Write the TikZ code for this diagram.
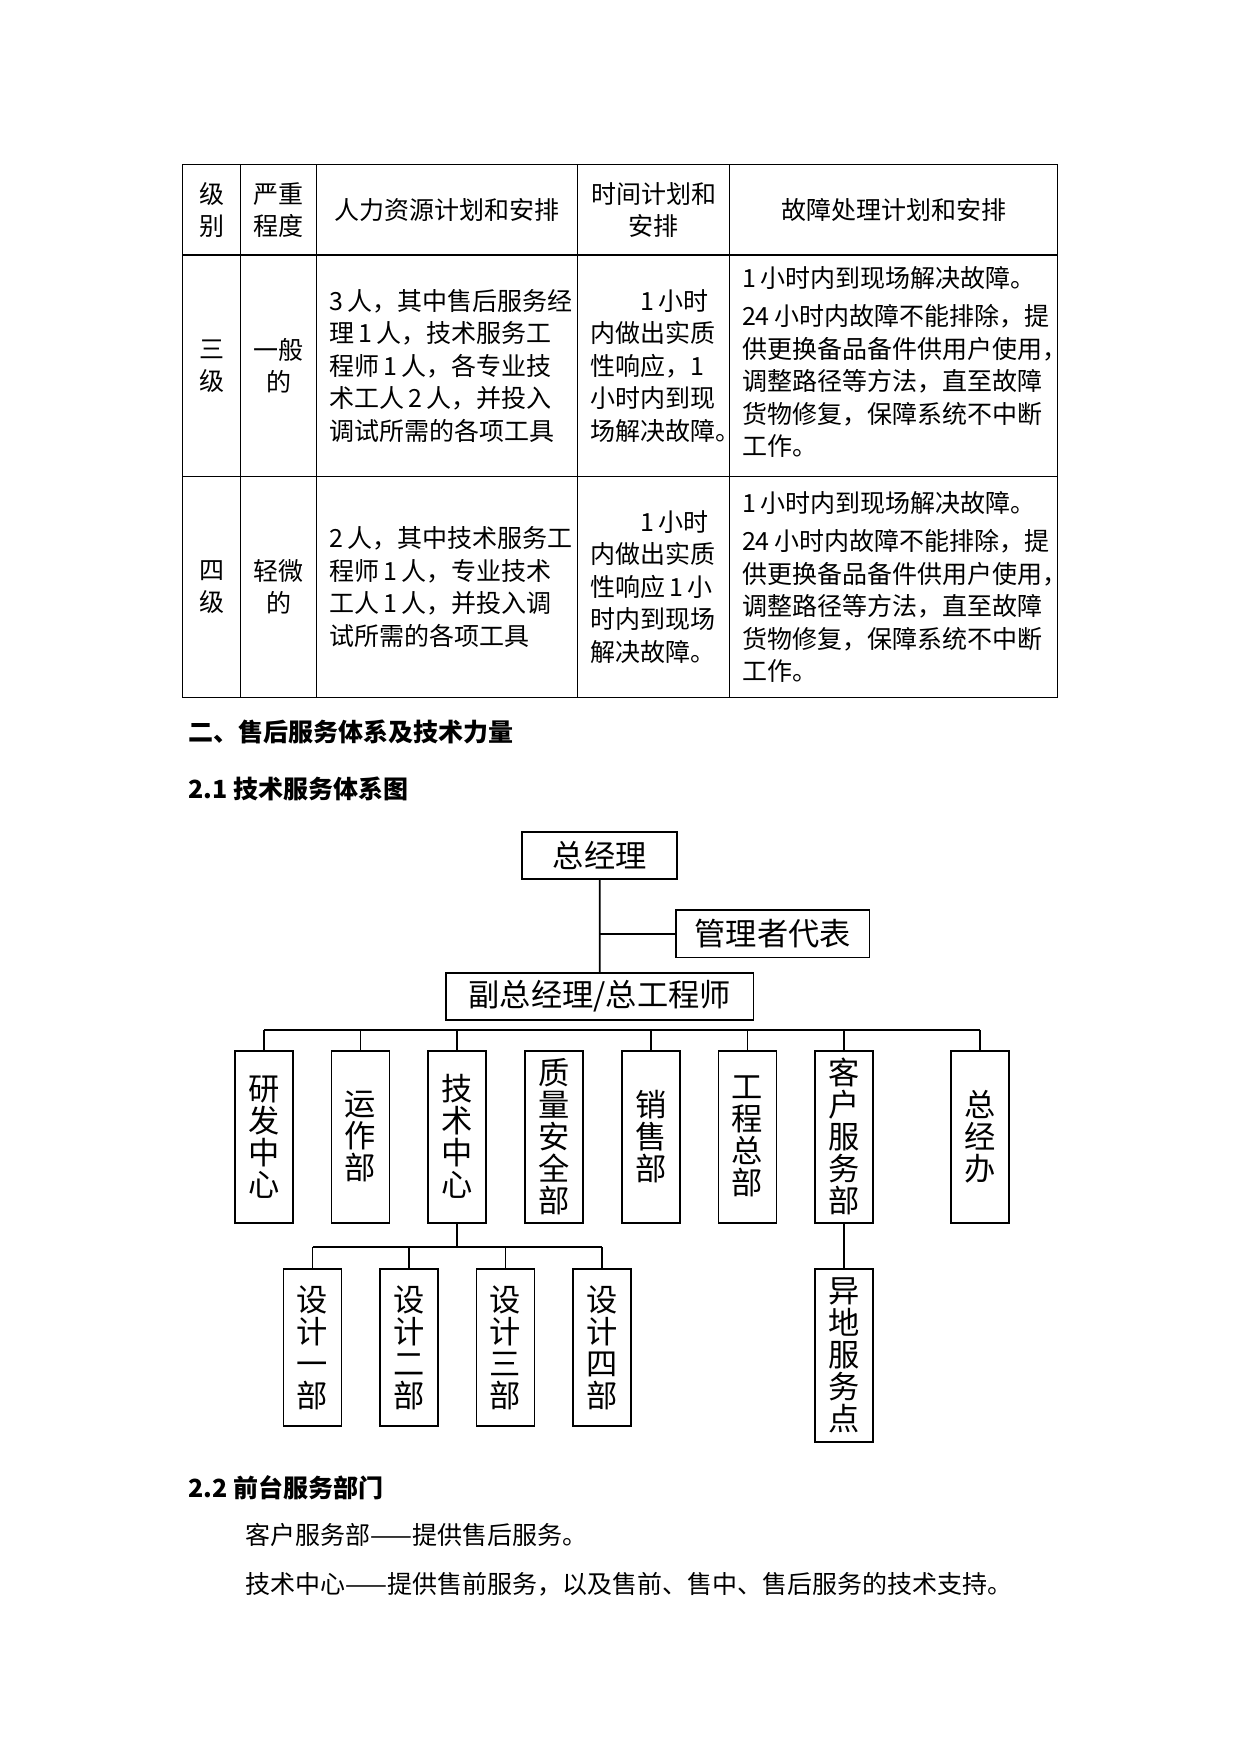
\documentclass[tikz,border=0pt]{standalone}
\usepackage{fontspec}
\setmainfont{Noto Sans CJK SC}
\begin{document}
\begin{tikzpicture}[x=0.48bp,y=-0.48bp,
  tl/.style={line width=0.6pt},
  cell/.style={inner sep=0pt, font=\fontsize{12bp}{15.6bp}\selectfont},
  head/.style={inner sep=0pt, anchor=west, font=\bfseries\fontsize{12bp}{14.4bp}\selectfont},
  para/.style={inner sep=0pt, anchor=west, font=\fontsize{12bp}{14.4bp}\selectfont},
  hb/.style={draw, line width=0.8pt, inner sep=0pt, font=\fontsize{15bp}{18bp}\selectfont},
  vb/.style={draw, line width=0.8pt, inner sep=0pt, align=center, minimum width=27.84bp, font=\fontsize{15bp}{15.36bp}\selectfont},
  conn/.style={line width=0.8pt}]
\useasboundingbox (0,0) rectangle (1241,1754);

% ---------- table ----------
\draw[tl] (182.4,164.5) rectangle (1057.5,697.2);
\draw[tl] (182.4,255.1) -- (1057.5,255.1);
\draw[tl] (182.4,476.7) -- (1057.5,476.7);
\foreach \cx in {240.6,316.7,577.4,729.6} \draw[tl] (\cx,164.5) -- (\cx,697.2);

\node[cell, align=center] (h1) at (211.5,210) {级\\别};
\node[cell, align=center] (h2) at (278.7,210) {严重\\程度};
\node[cell] (h3) at (447,210) {人力资源计划和安排};
\node[cell, align=center] (h4) at (653.5,210) {时间计划和\\安排};
\node[cell] (h5) at (893.5,210) {故障处理计划和安排};

\node[cell, align=center] (r1a) at (211.5,366) {三\\级};
\node[cell, align=center] (r1b) at (278.7,366) {一般\\的};
\node[cell, align=left, anchor=west] (r1c) at (329,366) {3\,人，其中售后服务经\\理\,1\,人，技术服务工\\程师\,1\,人，各专业技\\术工人\,2\,人，并投入\\调试所需的各项工具};
\node[cell, align=left, anchor=west] (r1d) at (589.7,366) {\hspace*{2em}1\,小时\\内做出实质\\性响应，1\\小时内到现\\场解决故障。};
\node[cell, align=left, anchor=west] (r1e) at (741.7,362) {1\,小时内到现场解决故障。\\[3bp]24\,小时内故障不能排除，提\\供更换备品备件供用户使用，\\调整路径等方法，直至故障\\货物修复，保障系统不中断\\工作。};

\node[cell, align=center] (r2a) at (211.5,587) {四\\级};
\node[cell, align=center] (r2b) at (278.7,587) {轻微\\的};
\node[cell, align=left, anchor=west] (r2c) at (329,587) {2\,人，其中技术服务工\\程师\,1\,人，专业技术\\工人\,1\,人，并投入调\\试所需的各项工具};
\node[cell, align=left, anchor=west] (r2d) at (589.7,587) {\hspace*{2em}1\,小时\\内做出实质\\性响应\,1\,小\\时内到现场\\解决故障。};
\node[cell, align=left, anchor=west] (r2e) at (741.7,587) {1\,小时内到现场解决故障。\\[3bp]24\,小时内故障不能排除，提\\供更换备品备件供用户使用，\\调整路径等方法，直至故障\\货物修复，保障系统不中断\\工作。};

% ---------- headings ----------
\node[head] (sec2) at (188,731.8) {二、售后服务体系及技术力量};
\node[head] (sec21) at (188,789) {2.1 技术服务体系图};

% ---------- org chart ----------
\node[hb, minimum width=74.4bp, minimum height=22.56bp] (gm) at (599.8,855.8) {总经理};
\node[hb, minimum width=92.8bp, minimum height=22.7bp] (mr) at (772.7,933.7) {管理者代表};
\node[hb, minimum width=147.5bp, minimum height=22.7bp] (vgm) at (599.7,996.4) {副总经理/总工程师};
\draw[conn] (gm.south) -- (vgm.north);
\draw[conn] (gm.south |- mr.west) -- (mr.west);

\node[vb, minimum height=82.56bp] (d1) at (263.9,1136.7) {研\\发\\中\\心};
\node[vb, minimum height=82.56bp] (d2) at (360.6,1136.7) {运\\作\\部};
\node[vb, minimum height=82.56bp] (d3) at (457.3,1136.7) {技\\术\\中\\心};
\node[vb, minimum height=82.56bp] (d4) at (554,1136.7) {质\\量\\安\\全\\部};
\node[vb, minimum height=82.56bp] (d5) at (650.7,1136.7) {销\\售\\部};
\node[vb, minimum height=82.56bp] (d6) at (747.4,1136.7) {工\\程\\总\\部};
\node[vb, minimum height=82.56bp] (d7) at (844.1,1136.7) {客\\户\\服\\务\\部};
\node[vb, minimum height=82.56bp] (d8) at (980,1136.7) {总\\经\\办};

\coordinate (barL) at (263.9,1030);
\coordinate (barR) at (980,1030);
\draw[conn] (barL) -- (barR);
\foreach \n in {d1,d2,d3,d5,d6,d7,d8} \draw[conn] (\n.north |- barL) -- (\n.north);

\coordinate (sbar) at (457.3,1247.3);
\node[vb, minimum height=75.1bp] (s1) at (312.5,1347.5) {设\\计\\一\\部};
\node[vb, minimum height=75.1bp] (s2) at (409,1347.5) {设\\计\\二\\部};
\node[vb, minimum height=75.1bp] (s3) at (505.5,1347.5) {设\\计\\三\\部};
\node[vb, minimum height=75.1bp] (s4) at (602,1347.5) {设\\计\\四\\部};
\draw[conn] (d3.south) -- (sbar);
\draw[conn] (s1.north |- sbar) -- (s4.north |- sbar);
\foreach \n in {s1,s2,s3,s4} \draw[conn] (\n.north |- sbar) -- (\n.north);

\node[vb, minimum height=82.75bp] (yd) at (844.1,1355.5) {异\\地\\服\\务\\点};
\draw[conn] (d7.south) -- (yd.north);

% ---------- 2.2 ----------
\node[head] (sec22) at (188,1488) {2.2 前台服务部门};
\node[para] (p1) at (245,1535) {客户服务部——提供售后服务。};
\node[para] (p2) at (245,1584.5) {技术中心——提供售前服务，以及售前、售中、售后服务的技术支持。};
\end{tikzpicture}
\end{document}
